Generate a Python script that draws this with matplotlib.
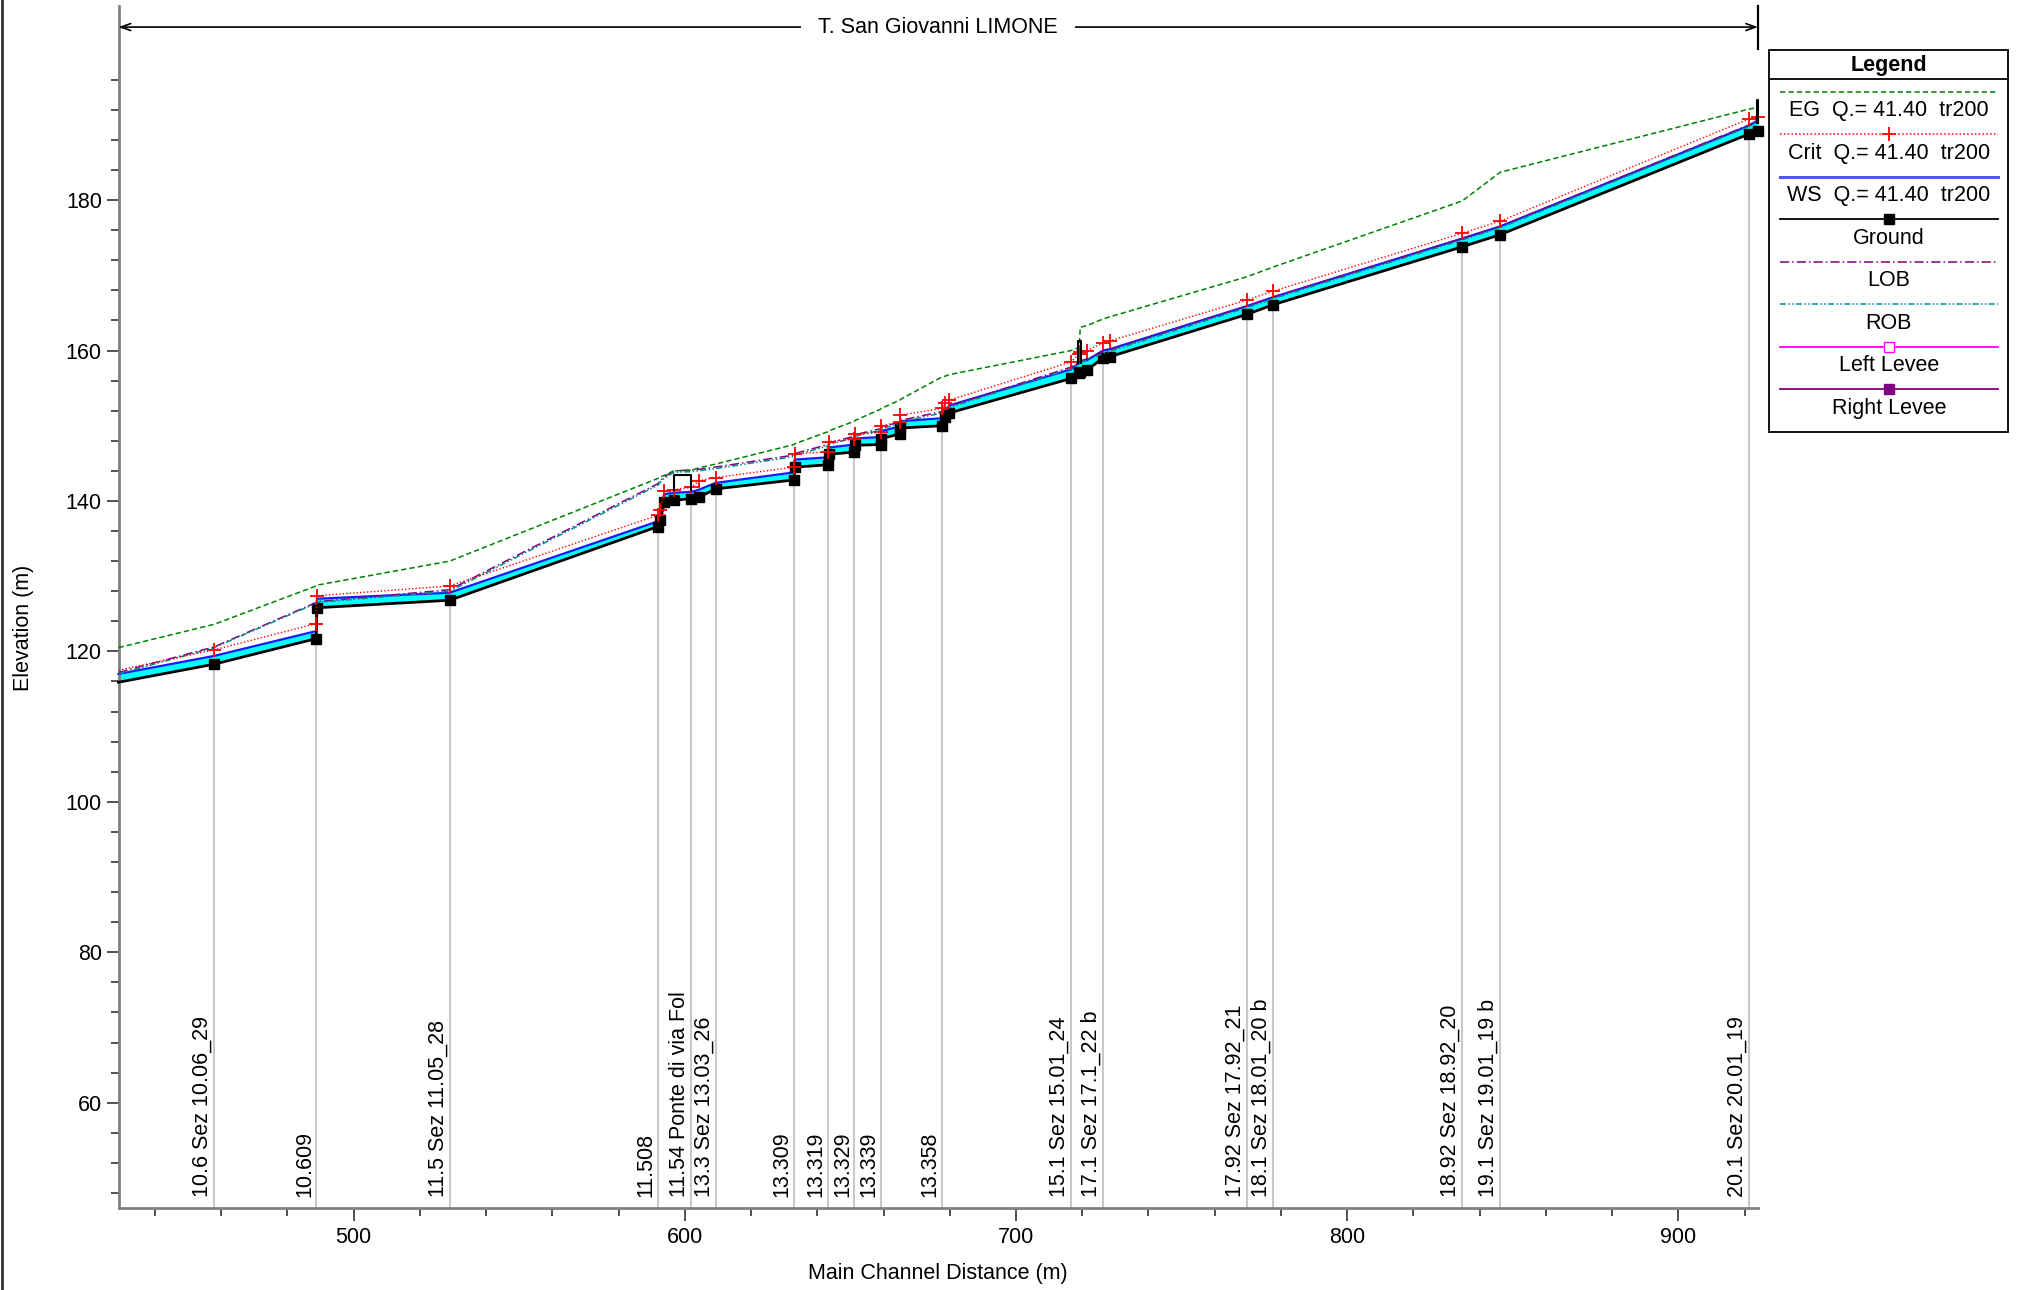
import numpy as np
import matplotlib
matplotlib.use("Agg")
import matplotlib.pyplot as plt
from matplotlib.lines import Line2D
from matplotlib.patches import Rectangle
from matplotlib.ticker import MultipleLocator, FixedLocator

plt.rcParams["font.family"] = ["Liberation Sans", "DejaVu Sans"]

# profile data (main channel distance in m, elevations in m)
station = [429.0, 457.9, 488.7, 488.9, 529.0, 591.9, 592.6, 593.8, 596.7, 602.0,
           604.3, 609.3, 633.0, 633.2, 643.2, 643.4, 651.2, 651.4, 659.1, 659.3,
           664.9, 665.1, 677.7, 678.7, 679.9, 716.7, 719.1, 719.4, 721.4, 726.3,
           728.5, 769.7, 777.7, 834.8, 846.2, 921.4, 924.0]
ground = [115.9, 118.3, 121.7, 125.8, 126.8, 136.6, 137.4, 139.8, 140.1, 140.3,
          140.5, 141.6, 142.8, 144.5, 144.8, 146.2, 146.5, 147.4, 147.5, 148.3,
          148.9, 149.7, 150.0, 151.1, 151.7, 156.3, 157.0, 157.1, 157.4, 159.0,
          159.2, 164.8, 166.1, 173.8, 175.4, 188.8, 189.2]
ws = [117.0, 119.4, 122.7, 127.0, 127.8, 137.3, 138.2, 140.9, 141.1, 141.2,
      141.5, 142.4, 143.8, 145.5, 145.8, 147.1, 147.5, 148.3, 148.5, 149.3,
      149.9, 150.6, 151.0, 152.1, 152.7, 157.5, 158.4, 158.5, 158.7, 160.0,
      160.2, 165.9, 167.1, 174.9, 176.5, 189.9, 190.6]
crit = [117.5, 120.2, 123.7, 127.4, 128.7, 138.1, 138.8, 141.3, 141.5, 141.8,
        142.7, 143.1, 144.5, 146.3, 146.5, 147.9, 148.2, 148.9, 149.1, 150.0,
        150.5, 151.4, 152.3, 153.0, 153.4, 158.5, 159.6, 159.8, 160.0, 161.0,
        161.3, 166.7, 167.9, 175.6, 177.2, 190.8, 191.0]
eg = [120.5, 123.6, 128.7, 128.8, 132.0, 143.0, 143.2, 143.4, 144.0, 144.1,
      144.4, 144.9, 147.5, 147.6, 149.2, 149.3, 150.6, 150.7, 152.2, 152.3,
      153.4, 153.5, 156.5, 156.6, 156.8, 160.0, 160.4, 163.1, 163.3, 164.2,
      164.5, 169.8, 171.1, 179.9, 183.7, 192.1, 192.3]
lob = [117.2, 120.6, 126.5, 126.6, 128.2, 142.3, 142.7, 143.2, 144.0, 144.1,
       144.2, 144.5, 146.1, 146.3, 147.5, 147.7, 148.6, 148.8, 149.6, 149.8,
       150.5, 150.7, 151.9, 152.3, 152.6, 157.8, 158.4, 158.6, 158.9, 159.8,
       160.1, 165.9, 167.1, 174.9, 176.5, 190.0, 190.6]
rob = [117.0, 120.5, 126.4, 126.5, 128.0, 142.1, 142.5, 143.0, 143.8, 143.9,
       144.0, 144.3, 145.9, 146.1, 147.3, 147.5, 148.4, 148.6, 149.4, 149.6,
       150.3, 150.5, 151.7, 152.1, 152.4, 157.6, 158.2, 158.4, 158.7, 159.6,
       159.9, 165.7, 166.9, 174.7, 176.3, 189.8, 190.4]

# labelled cross sections
sec_x = [457.9, 488.7, 529.0, 591.9, 602.0, 609.3, 633.0, 643.2, 651.2, 659.1,
         677.7, 716.7, 726.3, 769.7, 777.7, 834.8, 846.2, 921.4]
sec_names = ["10.6 Sez 10.06_29", "10.609", "11.5 Sez 11.05_28", "11.508",
             "11.54 Ponte di via Fol", "13.3 Sez 13.03_26", "13.309", "13.319",
             "13.329", "13.339", "13.358", "15.1 Sez 15.01_24", "17.1 Sez 17.1_22 b",
             "17.92 Sez 17.92_21", "18.1 Sez 18.01_20 b", "18.92 Sez 18.92_20",
             "19.1 Sez 19.01_19 b", "20.1 Sez 20.01_19"]

# bridges / structures (left, right, deck top, low)
br_left = [596.7, 718.6, 923.7]
br_right = [602.0, 719.6, 924.0]
br_top = [143.4, 161.3, 193.3]
br_low = [141.4, 158.4, 190.3]

reach_name = "T. San Giovanni LIMONE"
legend_labels = ["EG  Q.= 41.40  tr200", "Crit  Q.= 41.40  tr200", "WS  Q.= 41.40  tr200",
                 "Ground", "LOB", "ROB", "Left Levee", "Right Levee"]

FS = 15.5
W, H = 2020, 1290
fig = plt.figure(figsize=(W / 100, H / 100), dpi=100)
ax = fig.add_axes([118.5 / W, 1 - 1208 / H, (1758 - 118.5) / W, (1208 - 6) / H])
ax.set_xlim(429, 924.05)
ax.set_ylim(46, 205.8)

xmin, xmax = ax.get_xlim()
ymin = ax.get_ylim()[0]

# gray section lines
sec_top = np.interp(sec_x, station, ground)
ax.vlines(sec_x, ymin, sec_top, color="#c8c8c8", lw=1.5, zorder=1)
for sx, name in zip(sec_x, sec_names):
    ax.text(sx - 0.4, 47.4, name, rotation=90, ha="right", va="bottom",
            fontsize=FS, color="black", zorder=1)

n = len(station)
ax.fill_between(station, ground, ws, color="#00ffff", lw=0, zorder=2)
ax.plot(station, ws, color="#1a1aff", lw=1.6, zorder=3, clip_on=False)
ax.plot(station, ground, color="black", lw=2.0, marker="s", ms=7.5,
        markevery=list(range(1, n)), zorder=4, clip_on=False)
ax.plot(station, lob, color="#800080", lw=1.1, dashes=(6, 2, 1, 2), zorder=5)
ax.plot(station, rob, color="#008b8b", lw=1.1, dashes=(4, 1.5, 1, 1.5, 1, 1.5), zorder=5)
ax.plot(station, eg, color="#008000", lw=1.1, dashes=(3.5, 2), zorder=5, clip_on=False)
ax.plot(station, crit, color="red", lw=1.0, ls=(0, (1, 1.5)), marker="+", ms=10,
        mew=1.3, markevery=list(range(1, n)), zorder=6, clip_on=False)

for bl, brr, bt, bw in zip(br_left, br_right, br_top, br_low):
    ax.plot([bl, bl, brr, brr], [bw, bt, bt, bw], color="black", lw=1.5, zorder=7,
            clip_on=False)

# reach name with span arrow
ax.annotate("", xy=(xmax, 203.0), xytext=(xmin, 203.0),
            arrowprops=dict(arrowstyle="<->,head_length=0.7,head_width=0.25",
                            color="black", lw=1.2, shrinkA=0, shrinkB=0),
            annotation_clip=False)
ax.plot([xmax, xmax], [200.1, 205.8], color="black", lw=1.6, clip_on=False)
ax.text((xmin + xmax) / 2, 203.0, reach_name, ha="center", va="center", fontsize=FS,
        bbox=dict(boxstyle="square,pad=0.8", fc="white", ec="none"), zorder=8)

# axes style
for side in ["top", "right"]:
    ax.spines[side].set_visible(False)
for side in ["left", "bottom"]:
    ax.spines[side].set_color("#808080")
    ax.spines[side].set_linewidth(2)
ax.xaxis.set_major_locator(MultipleLocator(100))
ax.xaxis.set_minor_locator(MultipleLocator(20))
ax.yaxis.set_major_locator(FixedLocator([60, 80, 100, 120, 140, 160, 180]))
ax.yaxis.set_minor_locator(FixedLocator([v for v in range(48, 201, 4) if v % 20 != 0]))
ax.tick_params(which="major", length=9, width=1.2, color="#333333", labelsize=FS, pad=3)
ax.tick_params(which="minor", length=6, width=1.2, color="#333333")
ax.tick_params(axis="x", which="major", pad=5)

fig.text(23 / W, 1 - 628 / H, "Elevation (m)", rotation=90, ha="center", va="center",
         fontsize=FS)
fig.text(938 / W, 1 - 1274 / H, "Main Channel Distance (m)", ha="center", va="center",
         fontsize=FS)
fig.add_artist(Line2D([0.0008, 0.0008], [0, 1], color="#333333", lw=2))

# legend box in the HEC-RAS style
lax = fig.add_axes([1769.3 / W, 1 - 431.7 / H, 239 / W, 381.7 / H])
lax.set_xlim(0, 1)
lax.set_ylim(0, 1)
lax.axis("off")
lax.add_patch(Rectangle((0, 0), 1, 1, fill=False, ec="black", lw=1.3, clip_on=False))
box_h = 381.7
lax.plot([0, 1], [1 - 29 / box_h] * 2, color="black", lw=1.3)
lax.text(0.5, 1 - 15 / box_h, "Legend", ha="center", va="center", fontsize=FS,
         fontweight="bold")

leg_styles = [
    dict(color="#008000", dashes=(3.5, 2)),
    dict(color="red", ls=(0, (1, 1.5)), marker="+", ms=10, mew=1.3),
    dict(color="#5555ff", lw=2.2),
    dict(color="black", lw=1.3, marker="s", ms=7),
    dict(color="#800080", dashes=(6, 2, 1, 2)),
    dict(color="#008b8b", dashes=(4, 1.5, 1, 1.5, 1, 1.5)),
    dict(color="#ff00ff", lw=1.3, marker="s", ms=7, mfc="white", mec="#ff00ff"),
    dict(color="#800080", lw=1.3, marker="s", ms=7),
]
for i, (lab, st) in enumerate(zip(legend_labels, leg_styles)):
    yl = 1 - (41.7 + 42.5 * i) / box_h
    yt = 1 - (60.7 + 42.5 * i) / box_h
    kw = dict(lw=1.1)
    kw.update(st)
    lax.plot([0.045, 0.5, 0.955], [yl, yl, yl], markevery=[1], **kw)
    lax.text(0.5, yt, lab, ha="center", va="center", fontsize=FS)

fig.savefig("out.png", dpi=100)
